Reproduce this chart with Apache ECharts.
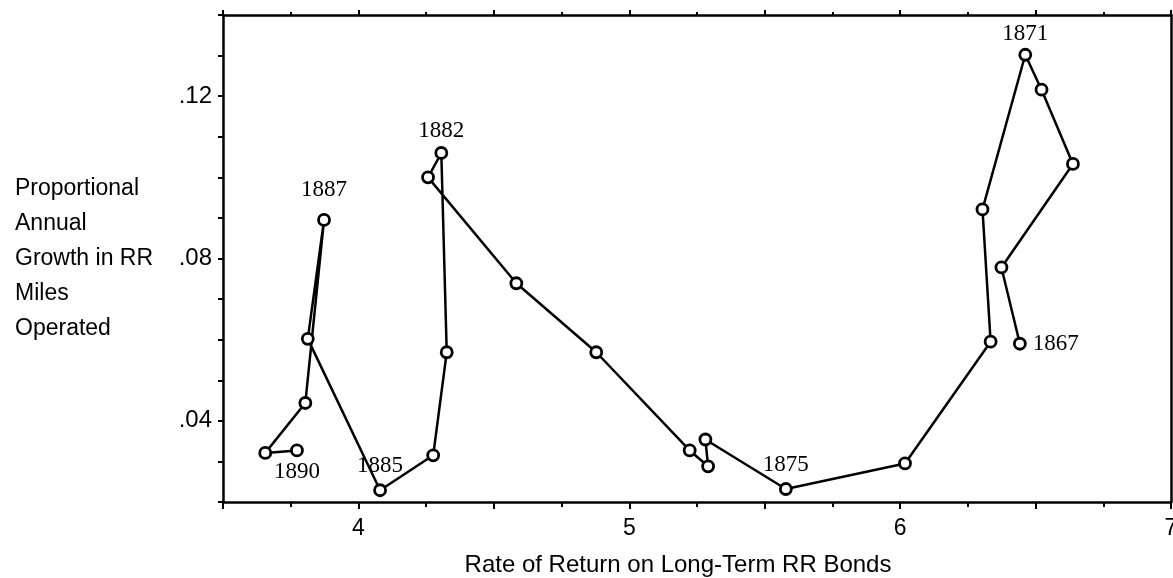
<!DOCTYPE html>
<html>
<head>
<meta charset="utf-8">
<script src="https://cdn.jsdelivr.net/npm/echarts@6/dist/echarts.min.js"></script>
<style>
  html, body { margin: 0; padding: 0; background: #fff; }
  #container { width: 1173px; height: 578px; }
</style>
</head>
<body>
<div id="container"></div>
<script>
// years 1867 - 1890, in path order
var years = [1867, 1868, 1869, 1870, 1871, 1872, 1873, 1874, 1875, 1876, 1877, 1878,
             1879, 1880, 1881, 1882, 1883, 1884, 1885, 1886, 1887, 1888, 1889, 1890]
// rate of return on long-term RR bonds
var bondRate = [6.442, 6.374, 6.638, 6.522, 6.462, 6.304, 6.334, 6.018, 5.578, 5.281, 5.291, 5.223,
                4.878, 4.583, 4.257, 4.306, 4.326, 4.276, 4.080, 3.813, 3.873, 3.804, 3.656, 3.773]
// proportional annual growth in RR miles operated
var milesGrowth = [0.0590, 0.0778, 0.1033, 0.1216, 0.1302, 0.0921, 0.0595, 0.0295, 0.0232, 0.0354, 0.0288, 0.0327,
                   0.0569, 0.0739, 0.1000, 0.1060, 0.0569, 0.0315, 0.0229, 0.0602, 0.0895, 0.0444, 0.0321, 0.0327]
var labelledYears = [1867, 1871, 1875, 1882, 1885, 1887, 1890]
var xTickLabels = [4, 5, 6, 7]
var yTickLabels = [0.04, 0.08, 0.12]

// where each year label sits
var labelPlace = {
    1867: ['right', 6],
    1871: ['top', 2],
    1875: ['top', 6],
    1882: ['top', 4],
    1885: ['top', 6],
    1887: ['top', 12],
    1890: ['bottom', 3]
}

var sans = '"Liberation Sans", Arial, sans-serif'
var serif = '"Liberation Serif", "Times New Roman", serif'

var points = []
for (var i = 0; i < years.length; i++) {
    var item = { value: [bondRate[i], milesGrowth[i], years[i]] }
    if (labelledYears.indexOf(years[i]) >= 0) {
        var p = labelPlace[years[i]]
        item.label = {
            show: true,
            position: p[0],
            distance: p[1],
            formatter: String(years[i]),
            color: '#000',
            fontFamily: serif,
            fontSize: 23
        }
    }
    points.push(item)
}

function isOneOf(v, list) {
    for (var k = 0; k < list.length; k++) {
        if (Math.abs(v - list[k]) < 1e-6) return true
    }
    return false
}

var axisBlack = { lineStyle: { color: '#000', width: 2.5 } }
var tickBlack = { color: '#000', width: 2 }

var myChart = echarts.init(document.getElementById('container'))
var option = {
    backgroundColor: '#fff',
    animation: false,
    grid: { left: 223, right: 2, top: 15, bottom: 76, outerBoundsMode: 'none', containLabel: false },
    xAxis: [{
        type: 'value',
        position: 'bottom',
        min: 3.5,
        max: 7,
        interval: 0.5,
        name: 'Rate of Return on Long-Term RR Bonds',
        nameLocation: 'middle',
        nameGap: 51,
        nameTextStyle: { color: '#000', fontFamily: sans, fontSize: 24, padding: [0, 38, 0, 0] },
        axisLine: axisBlack,
        axisTick: { show: true, length: 7, lineStyle: tickBlack },
        minorTick: { show: true, splitNumber: 2, length: 5, lineStyle: tickBlack },
        splitLine: { show: false },
        axisLabel: {
            margin: 15,
            color: '#000',
            fontFamily: sans,
            fontSize: 23,
            showMinLabel: true,
            showMaxLabel: true,
            formatter: function (v) { return isOneOf(v, xTickLabels) ? String(Math.round(v)) : '' }
        }
    }, {
        type: 'value',
        position: 'top',
        min: 3.5,
        max: 7,
        interval: 0.5,
        axisLine: axisBlack,
        axisTick: { show: true, length: 5, lineStyle: tickBlack },
        minorTick: { show: true, splitNumber: 2, length: 3, lineStyle: tickBlack },
        splitLine: { show: false },
        axisLabel: { show: false }
    }],
    yAxis: [{
        type: 'value',
        position: 'left',
        min: 0.02,
        max: 0.14,
        interval: 0.01,
        name: 'Proportional\nAnnual\nGrowth in RR\nMiles\nOperated',
        nameLocation: 'middle',
        nameRotate: 0,
        nameGap: 208,
        nameTextStyle: {
            color: '#000',
            fontFamily: sans,
            fontSize: 23,
            lineHeight: 35,
            align: 'left',
            verticalAlign: 'middle'
        },
        axisLine: axisBlack,
        axisTick: { show: true, length: 5, lineStyle: tickBlack },
        splitLine: { show: false },
        axisLabel: {
            margin: 11,
            color: '#000',
            fontFamily: sans,
            fontSize: 24,
            formatter: function (v) {
                return isOneOf(v, yTickLabels) ? v.toFixed(2).replace(/^0/, '') : ''
            }
        }
    }, {
        type: 'value',
        position: 'right',
        min: 0.02,
        max: 0.14,
        interval: 0.01,
        axisLine: axisBlack,
        axisTick: { show: false },
        splitLine: { show: false },
        axisLabel: { show: false }
    }],
    series: [{
        type: 'line',
        xAxisIndex: 0,
        yAxisIndex: 0,
        data: points,
        symbol: 'circle',
        symbolSize: 11,
        showAllSymbol: true,
        lineStyle: { color: '#000', width: 2.5 },
        itemStyle: { color: '#fff', borderColor: '#000', borderWidth: 2.8 },
        label: { show: false }
    }]
}
myChart.setOption(option, true)
</script>
</body>
</html>
